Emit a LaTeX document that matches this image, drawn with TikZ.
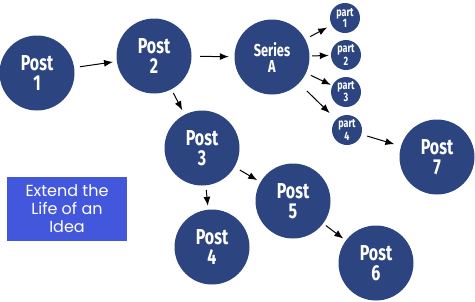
\documentclass[tikz,border=0pt]{standalone}
\usepackage{fontspec}
\setmainfont{Fira Sans}
\newfontfamily\boxfont{Poppins}
\usetikzlibrary{arrows.meta}
\definecolor{navy}{HTML}{2C4580}
\definecolor{boxblue}{HTML}{4357DC}
\newcommand\tallt[1]{\scalebox{1}[1.35]{#1}}
\tikzset{
  post/.style={circle,fill=navy,draw=none,minimum size=75pt,inner sep=0pt,text=white,
    font=\fontsize{16}{20}\selectfont\bfseries,align=center},
  partc/.style={circle,fill=navy,draw=none,minimum size=30pt,inner sep=0pt,text=white,
    font=\fontsize{9}{10}\selectfont\bfseries,align=center},
  conn/.style={line width=1pt,-{Latex[length=9pt,width=7pt]}},
}
\begin{document}
\begin{tikzpicture}[x=1pt,y=-1pt]
\useasboundingbox (0,0) rectangle (475,301);
\node[post] (p1) at (37,73) {\tallt{Post}\\\tallt{1}};
\node[post] (p2) at (154,56) {\tallt{Post}\\\tallt{2}};
\node[post,font=\fontsize{12.8}{16}\selectfont\bfseries] (sa) at (272,57) {\tallt{Series}\\\tallt{A}};
\node[partc] (a1) at (345,18) {\tallt{part}\\\tallt{1}};
\node[partc] (a2) at (346,55) {\tallt{part}\\\tallt{2}};
\node[partc] (a3) at (346,92) {\tallt{part}\\\tallt{3}};
\node[partc] (a4) at (347,130) {\tallt{part}\\\tallt{4}};
\node[post] (p7) at (437,157) {\tallt{Post}\\\tallt{7}};
\node[post] (p3) at (202,148) {\tallt{Post}\\\tallt{3}};
\node[post] (p4) at (212,247) {\tallt{Post}\\\tallt{4}};
\node[post] (p5) at (293,201) {\tallt{Post}\\\tallt{5}};
\node[post] (p6) at (376,263) {\tallt{Post}\\\tallt{6}};
\node[fill=boxblue,minimum width=120pt,minimum height=64pt,inner sep=0pt,text=white,
  font=\boxfont\fontsize{16}{18}\selectfont,align=center] (box) at (67,209)
  {Extend the\\Life of an\\Idea};
\draw[conn,shorten <=5.6pt,shorten >=3.7pt] (p1) -- (p2);
\draw[conn,shorten <=8.5pt,shorten >=5.5pt] (p2) -- (sa);
\draw[conn,shorten <=4pt,shorten >=5pt] (p2) -- (p3);
\draw[conn,shorten <=5.6pt,shorten >=5pt] (sa) -- (a1);
\draw[conn,shorten <=2.5pt,shorten >=2pt] (sa) -- (a2);
\draw[conn,shorten <=5.3pt,shorten >=1.5pt] (sa) -- (a3);
\draw[conn,shorten <=11pt,shorten >=9pt] (sa) -- (a4);
\draw[conn,shorten <=6pt,shorten >=6.8pt] (a4) -- (p7);
\draw[conn,shorten <=6pt,shorten >=3.7pt] (p3) -- (p5);
\draw[conn,shorten <=4.5pt,shorten >=3.7pt] (p3) -- (p4);
\draw[conn,shorten <=3.3pt,shorten >=3.1pt] (p5) -- (p6);
\end{tikzpicture}
\end{document}
